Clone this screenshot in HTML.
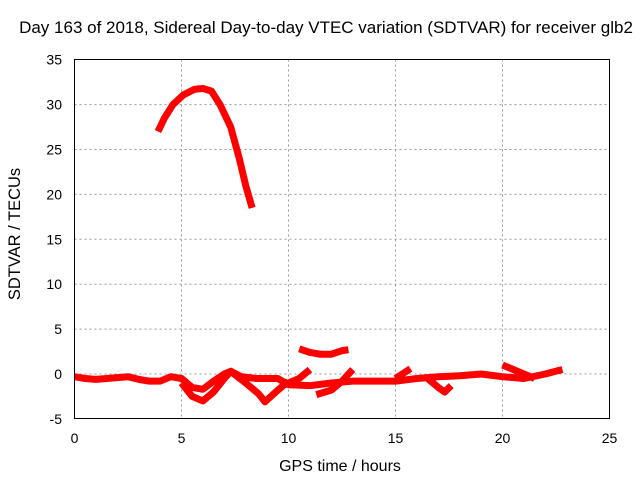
<!DOCTYPE html>
<html><head><meta charset="utf-8"><style>
body{margin:0;background:#fff;}
svg text{font-family:"Liberation Sans",sans-serif;font-size:14px;fill:#000;}
</style></head><body>
<svg width="640" height="480" id="c">
<text x="326" y="33" text-anchor="middle" style="font-size:17px">Day 163 of 2018, Sidereal Day-to-day VTEC variation (SDTVAR) for receiver glb2</text>
<text x="340" y="471" text-anchor="middle" style="font-size:16px">GPS time / hours</text>
<text transform="translate(20,234) rotate(-90)" text-anchor="middle" style="font-size:16.5px">SDTVAR / TECUs</text>
<g id="grid"></g><g id="series"></g>
<rect x="74.5" y="59.5" width="535" height="359" fill="none" stroke="#000"/>
</svg>
<script>
const xTicks=[0,5,10,15,20,25];
const yTicks=[-5,0,5,10,15,20,25,30,35];
const seriesArc=[[3.9,27],[4.2,28.5],[4.6,30],[5.1,31.1],[5.6,31.7],[6.0,31.8],[6.4,31.5],[6.8,30],[7.3,27.5],[7.7,24],[8.0,21],[8.3,18.5]];
const seriesHigh=[[10.5,2.8],[11,2.4],[11.5,2.2],[12,2.2],[12.5,2.6],[12.8,2.7]];
const seriesBase=[[0,-0.3],[0.5,-0.5],[1,-0.6],[1.5,-0.5],[2,-0.4],[2.5,-0.3],[3,-0.6],[3.5,-0.8],[4,-0.8],[4.5,-0.3],[5,-0.5],[5.5,-1.5],[6,-1.7],[6.5,-0.8],[7,0],[7.3,0.3],[7.8,-0.3],[8.5,-0.5],[9.5,-0.5],[10,-1.2],[11,-1.3],[12,-1.0],[13,-0.8],[14,-0.8],[15,-0.8],[16,-0.5],[17,-0.3],[18,-0.2],[19,0],[20,-0.3],[21,-0.5],[22,0],[22.8,0.5]];
const seriesDip=[[5,-1],[5.5,-2.5],[6,-3],[6.5,-2],[7,-0.5],[7.3,0.3],[8,-1],[8.6,-2.2],[8.9,-3.1],[9.5,-1.8],[10,-0.8]];
const seriesRise1=[[10,-1],[10.5,-0.5],[11,0.5]];
const seriesRise2=[[11.3,-2.3],[12,-1.8],[12.5,-0.8],[13,0.5]];
const seriesRise3=[[15,-0.5],[15.7,0.6]];
const seriesDip2=[[16.5,-0.5],[17,-1.5],[17.3,-2],[17.6,-1.3]];
const seriesLate=[[20,1],[20.5,0.5],[21,0],[21.5,-0.5]];
const X=v=>74.5+v*21.4, Y=v=>374-v*8.98;
const NS='http://www.w3.org/2000/svg';
const g=document.getElementById('grid'), s=document.getElementById('series');
xTicks.forEach(t=>{
 if(t>0&&t<25){const l=document.createElementNS(NS,'line');l.setAttribute('x1',X(t));l.setAttribute('x2',X(t));l.setAttribute('y1',59.5);l.setAttribute('y2',418.5);l.setAttribute('stroke','#999');l.setAttribute('stroke-dasharray','2,3');
 
 g.appendChild(l);}
 const tx=document.createElementNS(NS,'text');tx.setAttribute('x',X(t));tx.setAttribute('y',443);tx.setAttribute('text-anchor','middle');tx.textContent=t;
 
 g.appendChild(tx);
});
yTicks.forEach(t=>{
 if(t>-5&&t<35){const l=document.createElementNS(NS,'line');l.setAttribute('x1',74.5);l.setAttribute('x2',609.5);l.setAttribute('y1',Y(t));l.setAttribute('y2',Y(t));l.setAttribute('stroke','#999');l.setAttribute('stroke-dasharray','2,3');
 
 g.appendChild(l);}
 const tx=document.createElementNS(NS,'text');tx.setAttribute('x',62);tx.setAttribute('y',Y(t)+5);tx.setAttribute('text-anchor','end');tx.textContent=t;
 
 g.appendChild(tx);
});
[seriesArc,seriesHigh,seriesBase,seriesDip,seriesRise1,seriesRise2,seriesRise3,seriesDip2,seriesLate].forEach(d=>{
 const p=document.createElementNS(NS,'polyline');
 p.setAttribute('points',d.map(q=>X(q[0])+','+Y(q[1])).join(' '));
 p.setAttribute('fill','none');p.setAttribute('stroke','#f00');p.setAttribute('stroke-width','7');p.setAttribute('stroke-linejoin','round');
 
 
 s.appendChild(p);
});
</script>
</body></html>
